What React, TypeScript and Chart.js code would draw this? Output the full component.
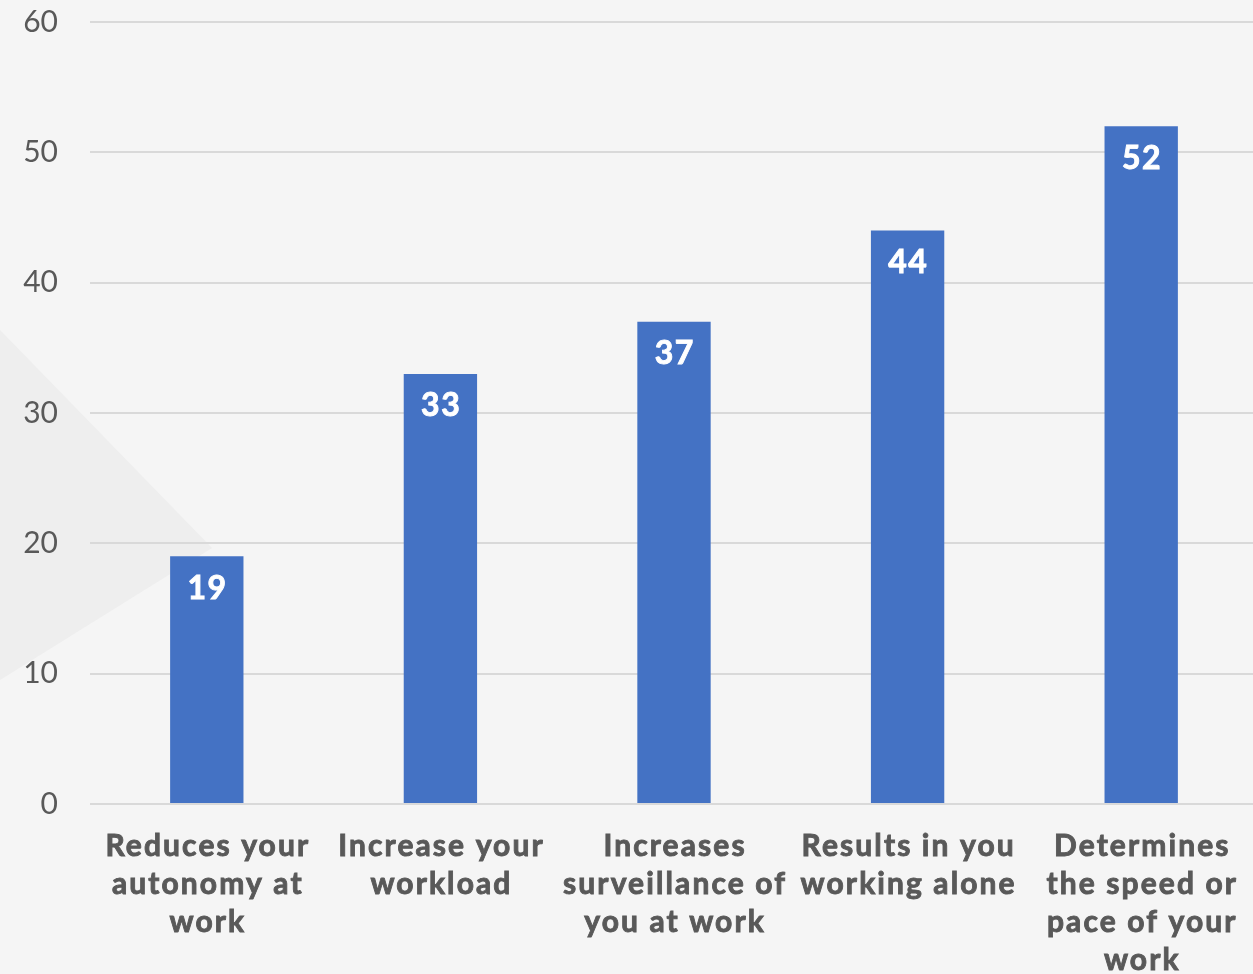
import React, { useEffect, useRef } from "react";
import { Chart, registerables } from "chart.js";

Chart.register(...registerables);

const categories: string[][] = [
  ["Reduces your", "autonomy at", "work"],
  ["Increase your", "workload"],
  ["Increases", "surveillance of", "you at work"],
  ["Results in you", "working alone"],
  ["Determines", "the speed or", "pace of your", "work"],
];
const values: number[] = [19, 33, 37, 44, 52];
const yTicks: number[] = [0, 10, 20, 30, 40, 50, 60];

const BAR_COLOR = "#4472C4";
const TEXT_COLOR = "#595959";
const GRID_COLOR = "#d9d9d9";
const FONT = "Lato, 'Open Sans', sans-serif";

const backgroundPlugin = {
  id: "bgDecor",
  beforeDraw(chart: Chart) {
    const { ctx, width, height } = chart;
    ctx.save();
    ctx.fillStyle = "#f5f5f5";
    ctx.fillRect(0, 0, width, height);
    ctx.fillStyle = "#eeeeee";
    ctx.beginPath();
    ctx.moveTo(0, 330);
    ctx.lineTo(212, 548);
    ctx.lineTo(0, 680);
    ctx.closePath();
    ctx.fill();
    ctx.restore();
  },
};

function drawHeavyText(ctx: any, text: string, x: number, y: number, spacing: number) {
  ctx.letterSpacing = `${spacing}px`;
  const w = ctx.measureText(text).width;
  const sx = x - (w - spacing) / 2;
  ctx.textAlign = "left";
  ctx.fillText(text, sx, y);
  ctx.strokeText(text, sx, y);
}

const labelsPlugin = {
  id: "customLabels",
  afterDatasetsDraw(chart: Chart) {
    const { ctx, chartArea } = chart;
    const xScale: any = chart.scales.x;
    const meta = chart.getDatasetMeta(0);
    ctx.save();
    ctx.textBaseline = "middle";
    // value labels inside bars
    ctx.fillStyle = "#ffffff";
    ctx.strokeStyle = "#ffffff";
    ctx.lineWidth = 0.9;
    ctx.font = `bold 32px ${FONT}`;
    meta.data.forEach((el: any, i: number) => {
      drawHeavyText(ctx, String(values[i]), el.x, el.y + 32, 1.5);
    });
    // category labels
    ctx.fillStyle = TEXT_COLOR;
    ctx.strokeStyle = TEXT_COLOR;
    ctx.lineWidth = 0.9;
    ctx.font = `bold 30px ${FONT}`;
    categories.forEach((lines, i) => {
      const x = xScale.getPixelForValue(i);
      lines.forEach((line, j) => {
        drawHeavyText(ctx, line, x, chartArea.bottom + 42 + j * 38, 2.1);
      });
    });
    ctx.restore();
  },
};

export default function App() {
  const ref = useRef<HTMLCanvasElement | null>(null);
  useEffect(() => {
    if (!ref.current) return;
    const chart = new Chart(ref.current, {
      type: "bar",
      data: {
        labels: categories.map((c) => c.join(" ")),
        datasets: [
          {
            data: values,
            backgroundColor: BAR_COLOR,
            barPercentage: 0.314,
            categoryPercentage: 1,
          },
        ],
      },
      options: {
        animation: false,
        responsive: true,
        maintainAspectRatio: false,
        layout: { padding: 0 },
        plugins: { legend: { display: false }, tooltip: { enabled: false } },
        scales: {
          x: {
            grid: { display: false },
            border: { display: false },
            ticks: { display: false },
            afterFit: (scale: any) => {
              scale.height = 170;
              scale.paddingLeft = 0;
              scale.paddingRight = 0;
            },
          },
          y: {
            min: 0,
            max: 60,
            afterBuildTicks: (scale: any) => {
              scale.ticks = yTicks.map((v) => ({ value: v }));
            },
            afterFit: (scale: any) => {
              scale.width = 90;
              scale.paddingTop = 22;
              scale.paddingBottom = 0;
            },
            grid: { color: GRID_COLOR, lineWidth: 2, drawTicks: false },
            border: { display: false },
            ticks: {
              color: TEXT_COLOR,
              font: { family: FONT, size: 30 },
              padding: 32,
            },
          },
        },
      },
      plugins: [backgroundPlugin, labelsPlugin],
    });
    return () => chart.destroy();
  }, []);
  return (
    <div
      style={{
        position: "fixed",
        left: 0,
        top: 0,
        width: 1253,
        height: 974,
        overflow: "hidden",
        background: "#f5f5f5",
      }}
    >
      <div style={{ position: "relative", width: 1258, height: 974 }}>
        <canvas ref={ref} />
      </div>
    </div>
  );
}
